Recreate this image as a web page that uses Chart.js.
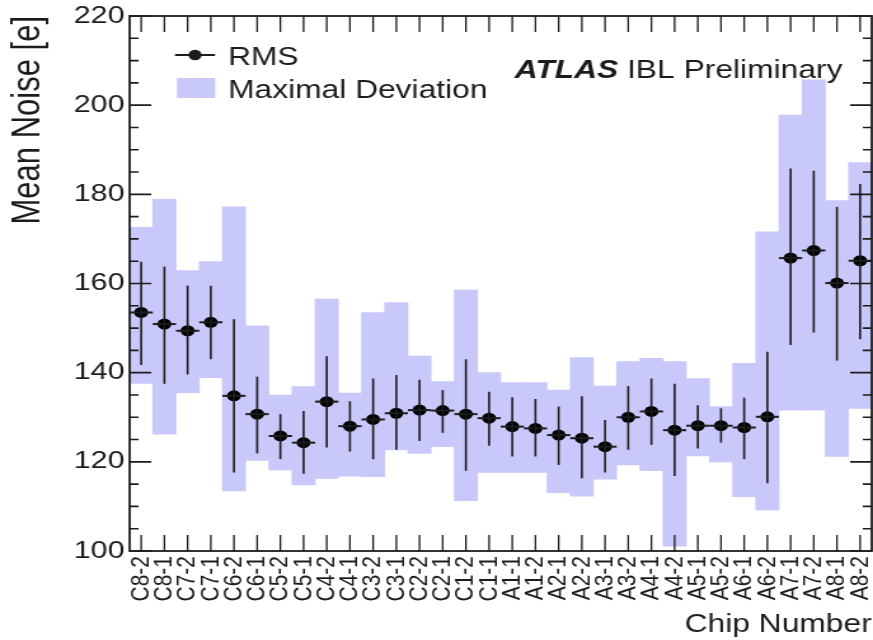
<!DOCTYPE html>
<html>
<head>
<meta charset="utf-8">
<script src="https://cdn.jsdelivr.net/npm/chart.js@4"></script>
<style>
  html, body { margin: 0; padding: 0; background: #fff; }
  #chart { display: block; }
</style>
</head>
<body>
<!-- the reference is stretched sideways, so the canvas is drawn narrow and widened by its inline style -->
<canvas id="chart" width="687" height="640" style="width: 873px; height: 640px;"></canvas>
<script>
// chips along the stave
const chips = ['C8-2', 'C8-1', 'C7-2', 'C7-1', 'C6-2', 'C6-1', 'C5-2', 'C5-1',
  'C4-2', 'C4-1', 'C3-2', 'C3-1', 'C2-2', 'C2-1', 'C1-2', 'C1-1',
  'A1-1', 'A1-2', 'A2-1', 'A2-2', 'A3-1', 'A3-2', 'A4-1', 'A4-2',
  'A5-1', 'A5-2', 'A6-1', 'A6-2', 'A7-1', 'A7-2', 'A8-1', 'A8-2'];

// mean noise with its rms range
const rmsMean = [153.5, 150.9, 149.4, 151.3, 134.8, 130.7, 125.8, 124.3,
  133.5, 128.0, 129.5, 130.9, 131.6, 131.5, 130.7, 129.8,
  127.9, 127.5, 126.0, 125.3, 123.4, 130.0, 131.3, 127.1,
  128.1, 128.1, 127.7, 130.1, 165.7, 167.4, 160.1, 165.1];
const rmsLow = [141.7, 137.5, 139.6, 143.0, 117.6, 121.9, 120.6, 117.3,
  123.2, 122.3, 120.6, 122.7, 124.7, 126.5, 118.0, 123.6,
  121.2, 121.2, 119.3, 116.3, 117.6, 122.7, 123.8, 116.8,
  123.0, 124.3, 120.6, 115.2, 146.2, 149.0, 142.7, 147.5];
const rmsHigh = [164.9, 163.8, 159.5, 159.5, 152.0, 139.1, 130.7, 131.4,
  143.7, 133.6, 138.7, 139.5, 138.4, 136.1, 143.0, 135.7,
  134.5, 134.1, 132.4, 134.7, 129.4, 137.0, 138.7, 137.5,
  132.7, 132.0, 134.4, 144.7, 185.8, 185.3, 177.2, 182.3];

// maximal deviation band
const devLow = [137.6, 126.2, 135.5, 138.9, 113.5, 120.3, 118.2, 114.8,
  116.3, 116.8, 116.7, 122.7, 121.9, 123.4, 111.3, 117.6,
  117.6, 117.6, 113.1, 112.3, 116.1, 119.3, 118.0, 101.1,
  121.3, 120.0, 112.2, 109.2, 131.6, 131.6, 121.2, 132.0];
const devHigh = [172.6, 178.9, 162.9, 164.9, 177.2, 150.5, 135.0, 136.9,
  156.5, 135.4, 153.5, 155.7, 143.7, 138.0, 158.5, 140.0,
  137.8, 137.8, 136.1, 143.4, 137.0, 142.5, 143.2, 142.5,
  138.7, 132.4, 142.1, 171.6, 197.8, 205.7, 178.6, 187.1];

const yTicks = [100, 120, 140, 160, 180, 200, 220];

const FAMILY = '"Liberation Sans", Arial, Helvetica, sans-serif';
const INK = '#1c1c1c';
const BAND = '#c8c8fa';

// error bars, frame, inward ticks, legend and the ATLAS label
const decorations = {
  id: 'decorations',
  afterDatasetsDraw(chart) {
    const {ctx, scales: {x, y}} = chart;
    const half = (x.getPixelForValue(1) - x.getPixelForValue(0)) / 2;
    ctx.save();
    ctx.strokeStyle = INK;
    chips.forEach((c, i) => {
      const px = x.getPixelForValue(i);
      ctx.lineWidth = 1.6;
      ctx.beginPath();
      ctx.moveTo(px, y.getPixelForValue(rmsLow[i]));
      ctx.lineTo(px, y.getPixelForValue(rmsHigh[i]));
      ctx.stroke();
      const py = y.getPixelForValue(rmsMean[i]);
      ctx.lineWidth = 2;
      ctx.beginPath();
      ctx.moveTo(px - half, py);
      ctx.lineTo(px + half, py);
      ctx.stroke();
    });
    ctx.restore();
  },
  afterDraw(chart) {
    const {ctx, chartArea: a, scales: {x, y}} = chart;
    ctx.save();
    ctx.strokeStyle = INK;

    // y ticks, major every 20 and minor every 5, on both sides
    ctx.lineWidth = 1.6;
    for (let v = 100; v <= 220; v += 5) {
      const py = y.getPixelForValue(v);
      const len = v % 20 === 0 ? 17 : 7;
      ctx.beginPath();
      ctx.moveTo(a.left, py); ctx.lineTo(a.left + len, py);
      ctx.moveTo(a.right, py); ctx.lineTo(a.right - len, py);
      ctx.stroke();
    }
    // x ticks at every chip, bottom and top
    ctx.lineWidth = 1.3;
    chips.forEach((c, i) => {
      const px = x.getPixelForValue(i);
      ctx.beginPath();
      ctx.moveTo(px, a.bottom); ctx.lineTo(px, a.bottom - 16);
      ctx.moveTo(px, a.top); ctx.lineTo(px, a.top + 16);
      ctx.stroke();
    });
    // frame
    ctx.lineWidth = 1.8;
    ctx.strokeRect(a.left, a.top, a.right - a.left, a.bottom - a.top);

    // legend
    ctx.fillStyle = INK;
    ctx.lineWidth = 1.8;
    ctx.beginPath();
    ctx.moveTo(137.7, 55); ctx.lineTo(169.2, 55);
    ctx.stroke();
    ctx.beginPath();
    ctx.arc(153.5, 55, 5.2, 0, Math.PI * 2);
    ctx.fill();
    ctx.fillStyle = BAND;
    ctx.fillRect(139.3, 78, 30, 20);
    ctx.fillStyle = INK;
    ctx.font = `25px ${FAMILY}`;
    ctx.textBaseline = 'alphabetic';
    ctx.fillText('RMS', 179.4, 65);
    ctx.fillText('Maximal Deviation', 179.4, 98);

    // ATLAS label
    ctx.font = `italic bold 25px ${FAMILY}`;
    ctx.fillText('ATLAS', 405, 78);
    const w = ctx.measureText('ATLAS ').width;
    ctx.font = `25px ${FAMILY}`;
    ctx.fillText('IBL Preliminary', 405 + w, 78);
    ctx.restore();
  },
};

new Chart(document.getElementById('chart'), {
  type: 'bar',
  data: {
    labels: chips,
    datasets: [
      {
        type: 'line',
        label: 'RMS',
        data: rmsMean,
        showLine: false,
        pointRadius: 5.5,
        pointBackgroundColor: '#000',
        pointBorderWidth: 0,
        order: 0,
      },
      {
        label: 'Maximal Deviation',
        data: chips.map((c, i) => [devLow[i], devHigh[i]]),
        backgroundColor: BAND,
        borderWidth: 0,
        barPercentage: 1,
        categoryPercentage: 1,
        order: 1,
      },
    ],
  },
  options: {
    responsive: false,
    animation: false,
    layout: {autoPadding: false, padding: {top: 16, right: 1, left: 0, bottom: 0}},
    plugins: {
      legend: {display: false},
      tooltip: {enabled: false},
    },
    scales: {
      x: {
        grid: {display: false, drawTicks: false},
        border: {display: false},
        ticks: {
          autoSkip: false,
          minRotation: 90,
          maxRotation: 90,
          padding: 5,
          color: INK,
          font: {family: FAMILY, size: 21},
        },
        title: {
          display: true,
          text: 'Chip Number',
          align: 'end',
          color: INK,
          padding: 0,
          font: {family: FAMILY, size: 25},
        },
        afterFit(scale) {
          // keep the plot box running to the right edge
          scale.height = 89;
          scale.paddingLeft = 0;
          scale.paddingRight = 0;
        },
      },
      y: {
        min: 100,
        max: 220,
        afterBuildTicks(scale) {
          scale.ticks = yTicks.map((v) => ({value: v}));
        },
        grid: {display: false, drawTicks: false},
        border: {display: false},
        ticks: {
          padding: 4,
          color: INK,
          font: {family: FAMILY, size: 24},
        },
        title: {
          display: true,
          text: 'Mean Noise [e]',
          align: 'end',
          color: INK,
          padding: {top: 4, bottom: 0},
          font: {family: FAMILY, size: 31},
        },
        afterFit(scale) {
          scale.width = 102;
          scale.paddingTop = 0;
          scale.paddingBottom = 0;
        },
      },
    },
  },
  plugins: [decorations],
});
</script>
</body>
</html>
